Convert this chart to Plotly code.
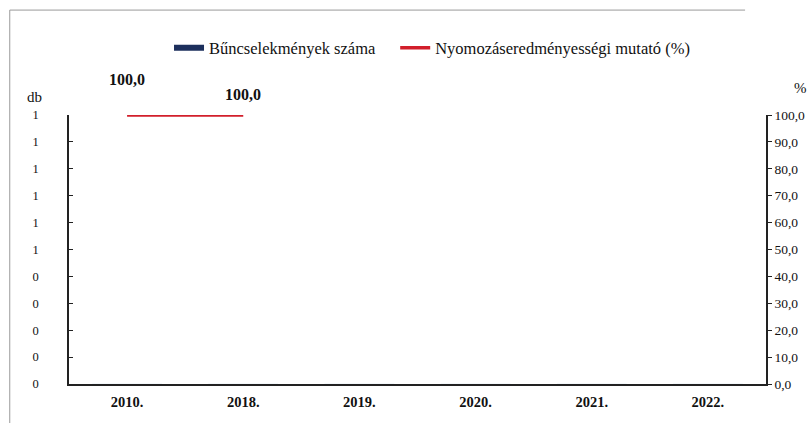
import plotly.graph_objects as go

# ------------------------------------------------------
# Data
# ------------------------------------------------------
years = ["2010.", "2018.", "2019.", "2020.", "2021.", "2022."]
crime_counts = [0, 0, 0, 0, 0, 0]
clearance_rate = [100.0, 100.0, None, None, None, None]
rate_label_shift = [36, 21]

SERIF = "Liberation Serif, Times New Roman, serif"
NAVY = "#1c2f5c"
RED = "#d21f2b"

fig = go.Figure()

# bars (all zero) - legend shown through a proxy line below
fig.add_trace(go.Bar(
    x=years,
    y=crime_counts,
    name="Bűncselekmények száma",
    marker_color=NAVY,
    legendgroup="db",
    showlegend=False,
))
fig.add_trace(go.Scatter(
    x=[years[0]],
    y=[None],
    mode="lines",
    name="Bűncselekmények száma",
    line=dict(color=NAVY, width=6),
    legendgroup="db",
    legend="legend",
))

fig.add_trace(go.Scatter(
    x=years,
    y=clearance_rate,
    name="Nyomozáseredményességi mutató (%)",
    mode="lines",
    line=dict(color=RED, width=3.5),
    yaxis="y2",
    legend="legend2",
))

# data labels (x given as category index)
for i, (v, shift) in enumerate(zip(clearance_rate, rate_label_shift)):
    fig.add_annotation(
        x=i, y=v, xref="x", yref="y2",
        text=f"<b>{v:.1f}</b>".replace(".", ","),
        showarrow=False, yshift=shift,
        xanchor="center", yanchor="middle",
        font=dict(family=SERIF, size=16, color="#111"),
    )

# axis titles
fig.add_annotation(x=-0.049, y=1.067, xref="paper", yref="paper",
                   text="db", showarrow=False,
                   xanchor="center", yanchor="middle",
                   font=dict(family=SERIF, size=15, color="#111"))
fig.add_annotation(x=1.049, y=1.10, xref="paper", yref="paper",
                   text="%", showarrow=False,
                   xanchor="center", yanchor="middle",
                   font=dict(family=SERIF, size=15, color="#111"))

# scanned frame (top + left edges)
fig.add_shape(type="line", xref="paper", yref="paper",
              x0=-0.085, x1=0.97, y0=1.39, y1=1.39,
              line=dict(color="#9a9a9a", width=1))
fig.add_shape(type="line", xref="paper", yref="paper",
              x0=-0.085, x1=-0.085, y0=1.39, y1=-0.15,
              line=dict(color="#9a9a9a", width=1))

legend_style = dict(
    orientation="h",
    yanchor="middle", y=1.249,
    xanchor="left",
    font=dict(family=SERIF, size=16.5, color="#111"),
    itemwidth=30,
    bgcolor="rgba(0,0,0,0)",
)

fig.update_layout(
    width=807,
    height=423,
    margin=dict(l=69, r=41, t=115, b=39, autoexpand=False),
    paper_bgcolor="white",
    plot_bgcolor="white",
    separators=", ",
    font=dict(family=SERIF, size=12, color="#111"),
    showlegend=True,
    legend=dict(legend_style, x=0.1435),
    legend2=dict(legend_style, x=0.468),
    xaxis=dict(
        type="category",
        categoryorder="array", categoryarray=years,
        range=[-0.5, len(years) - 0.5],
        showline=True, linecolor="#222", linewidth=1.5,
        showgrid=False, ticks="",
        ticklabelstandoff=4,
        tickfont=dict(family=SERIF, size=14.5, weight="bold"),
    ),
    yaxis=dict(
        range=[0, 1], dtick=0.1, tickformat=".0f",
        showline=True, linecolor="#222", linewidth=1.5,
        showgrid=False, zeroline=False,
        ticks="inside", ticklen=4, tickcolor="#222",
        ticklabelstandoff=26,
        tickfont=dict(family=SERIF, size=12.5),
    ),
    yaxis2=dict(
        overlaying="y", side="right",
        range=[0, 100], dtick=10, tickformat=".1f",
        showline=True, linecolor="#222", linewidth=1.5,
        showgrid=False, zeroline=False,
        ticks="outside", ticklen=4, tickcolor="#222",
        tickfont=dict(family=SERIF, size=13.5),
    ),
    bargap=0.4,
)

# drop the default 8px page margin so the figure fills the window
fig.write_html(
    "out.html",
    config={"displayModeBar": False},
    post_script="document.body.style.margin='0';",
)
